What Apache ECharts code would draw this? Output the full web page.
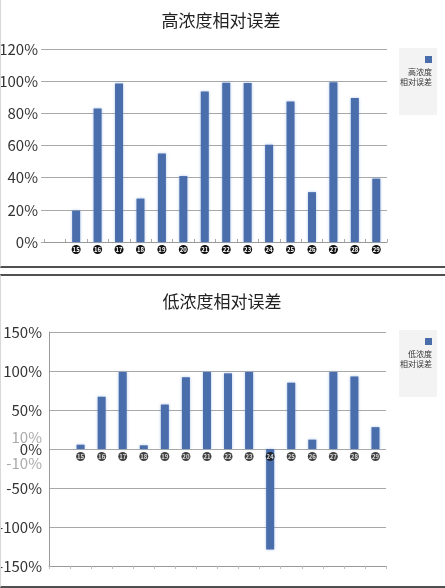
<!DOCTYPE html>
<html>
<head>
<meta charset="utf-8">
<script src="https://cdn.jsdelivr.net/npm/echarts@6/dist/echarts.min.js"></script>
<style>
  body { margin: 0; background: #fff; }
  #top { position: absolute; left: 0; top: 0; width: 445px; height: 268px; box-sizing: border-box;
         border-left: 1px solid #d8d8d8; border-bottom: 2px solid #505050; }
  #bot { position: absolute; left: 0; top: 274px; width: 445px; height: 314px; box-sizing: border-box;
         border-left: 1px solid #d8d8d8; border-top: 2px solid #505050; border-bottom: 2px solid #505050; }
</style>
</head>
<body>
<div id="top"></div>
<div id="bot"></div>
<script>
// first slot is an empty category, as in the original sheet
var categories = ['', '15', '16', '17', '18', '19', '20', '21', '22', '23', '24', '25', '26', '27', '28', '29'];
var highValues = [null, 19.5, 83, 98.5, 27, 55, 41, 93.5, 99, 98.8, 60.5, 87.3, 31, 99.4, 89.6, 39.4];
var lowValues = [null, 5.5, 67, 98.7, 4.7, 57, 92, 98.7, 97, 98.7, -129, 85, 12, 98.7, 93, 28];
var lowExtraTicks = [10, -10];

var font = '"Noto Sans CJK SC", "Noto Sans", sans-serif';
var barColor = '#4a6dac';

var circleStyle = {
  color: '#fff',
  fontSize: 6,
  fontWeight: 'bold',
  fontFamily: font,
  backgroundColor: '#111',
  borderRadius: 5,
  width: 9,
  height: 9,
  lineHeight: 9,
  align: 'center'
};

function legendPair(name, label, boxTop, iconTop, textTop) {
  return [
    {
      data: [name],
      left: 398,
      top: boxTop,
      icon: 'rect',
      itemWidth: 7,
      itemHeight: 7,
      backgroundColor: '#f3f3f3',
      padding: [iconTop - boxTop, 5, 52, 26],
      formatter: function () { return ''; },
      textStyle: { fontSize: 1 }
    },
    {
      data: [name],
      right: 8,
      top: textTop,
      align: 'right',
      itemWidth: 0,
      itemHeight: 0,
      padding: 0,
      itemStyle: { opacity: 0 },
      formatter: function () { return label; },
      textStyle: { fontSize: 8, lineHeight: 10, color: '#333', fontFamily: font }
    }
  ];
}

var topChart = echarts.init(document.getElementById('top'));
topChart.setOption({
  animation: false,
  title: {
    text: '高浓度相对误差',
    left: 215,
    textAlign: 'center',
    top: 7,
    textStyle: { fontSize: 17, fontWeight: 'normal', color: '#222', fontFamily: font }
  },
  legend: legendPair('高浓度相对误差', '高浓度\n相对误差', 48, 56, 67),
  grid: { left: 43, right: 58, top: 49, height: 193, outerBoundsMode: 'none' },
  xAxis: {
    type: 'category',
    data: categories,
    axisLine: { lineStyle: { color: '#999' } },
    axisTick: { show: true, inside: true, length: 3, lineStyle: { color: '#aaa' } },
    axisLabel: {
      interval: 0,
      margin: 3,
      formatter: function (v) { return v ? '{c|' + v + '}' : ''; },
      rich: { c: circleStyle }
    }
  },
  yAxis: {
    type: 'value',
    min: 0,
    max: 120,
    interval: 20,
    axisLine: { show: false },
    axisTick: { show: true, length: 3, lineStyle: { color: '#aaa' } },
    axisLabel: { formatter: '{value}%', fontSize: 15, color: '#333', margin: 6, fontFamily: font },
    splitLine: { lineStyle: { color: '#a8a8a8' } }
  },
  series: [{
    name: '高浓度相对误差',
    type: 'bar',
    data: highValues,
    barWidth: 8,
    itemStyle: { color: barColor, shadowBlur: 3, shadowColor: 'rgba(120,160,220,0.6)' }
  }]
});

var botChart = echarts.init(document.getElementById('bot'));
botChart.setOption({
  animation: false,
  title: {
    text: '低浓度相对误差',
    left: 216,
    textAlign: 'center',
    top: 12,
    textStyle: { fontSize: 17, fontWeight: 'normal', color: '#222', fontFamily: font }
  },
  legend: legendPair('低浓度相对误差', '低浓度\n相对误差', 54, 62, 73),
  grid: { left: 48, right: 59, top: 56, height: 234, outerBoundsMode: 'none' },
  xAxis: {
    type: 'category',
    data: categories,
    axisLine: { onZero: false, lineStyle: { color: '#999' } },
    axisTick: { show: true, length: 3, lineStyle: { color: '#bbb' } },
    axisLabel: { show: false }
  },
  yAxis: {
    type: 'value',
    min: -150,
    max: 150,
    interval: 50,
    axisLine: { show: true, lineStyle: { color: '#999' } },
    axisTick: { show: false },
    axisLabel: { formatter: '{value}%', fontSize: 15, color: '#333', margin: 7, fontFamily: font },
    splitLine: { lineStyle: { color: '#a8a8a8' } }
  },
  series: [
    {
      name: '低浓度相对误差',
      type: 'bar',
      data: lowValues,
      barWidth: 8,
      z: 2,
      itemStyle: { color: barColor, shadowBlur: 3, shadowColor: 'rgba(120,160,220,0.6)' },
      markLine: {
        silent: true,
        symbol: 'none',
        lineStyle: { color: 'rgba(0,0,0,0)', width: 1 },
        label: {
          show: true,
          position: 'start',
          distance: 7,
          fontSize: 15,
          color: '#aaa',
          fontFamily: font,
          formatter: function (p) { return p.value + '%'; }
        },
        data: lowExtraTicks.map(function (v) {
          return { yAxis: v, label: { offset: [0, v > 0 ? -4 : 6] } };
        })
      }
    },
    {
      // category labels sitting on the 0% line
      type: 'scatter',
      silent: true,
      z: 3,
      symbolSize: 0,
      data: categories.filter(function (c) { return c; }).map(function (c) { return [c, 0]; }),
      label: {
        show: true,
        position: 'bottom',
        distance: 3,
        formatter: function (p) { return '{c|' + p.value[0] + '}'; },
        rich: { c: circleStyle }
      }
    }
  ]
});
</script>
</body>
</html>
